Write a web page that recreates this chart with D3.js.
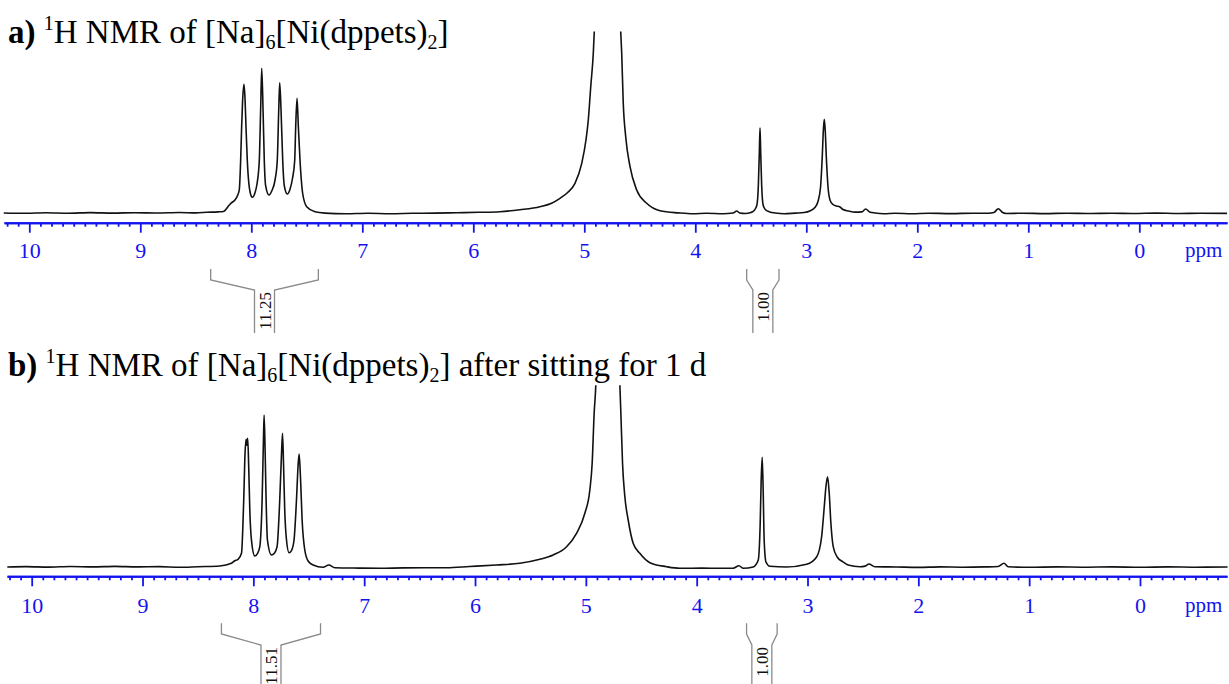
<!DOCTYPE html>
<html>
<head>
<meta charset="utf-8">
<script src="https://cdn.jsdelivr.net/npm/d3@7/dist/d3.min.js"></script>
<style>
  html, body { margin: 0; padding: 0; background: #fff; }
  svg { display: block; font-family: "Liberation Serif", "Times New Roman", serif; }
</style>
</head>
<body>
<svg id="chart" width="1229" height="684"></svg>
<script>
// ---- Spectrum a): fresh sample. [chemical shift (ppm), intensity (a.u.)]
const spectrumA = [
  [10.23, 0.5], [10.05, 0.2], [9.85, 0.8], [9.65, 0.3], [9.45, 0.9], [9.25, 0.4], [9.05, 0.8],
  [8.85, 0.5], [8.65, 1.0], [8.50, 0.6], [8.40, 1.2], [8.30, 1.6], [8.252, 2.0], [8.198, 8.5],
  [8.177, 10.8], [8.147, 13.5], [8.122, 18.5], [8.108, 24], [8.096, 53], [8.087, 86.8],
  [8.078, 113.5], [8.066, 129.3], [8.056, 113.5], [8.048, 86.8], [8.036, 53], [8.012, 22],
  [7.991, 16.2], [7.966, 21], [7.948, 30], [7.928, 53], [7.916, 103], [7.906, 145.2],
  [7.894, 103], [7.883, 53], [7.871, 28], [7.841, 18.5], [7.814, 23], [7.787, 33], [7.766, 53],
  [7.753, 103], [7.744, 130.8], [7.732, 103], [7.717, 53], [7.703, 28], [7.676, 19.5],
  [7.652, 24], [7.629, 35], [7.609, 53], [7.600, 86.8], [7.588, 115.2], [7.576, 86.8],
  [7.561, 53], [7.537, 20], [7.501, 6.8], [7.426, 1.8], [7.336, 0.4], [7.15, -0.3], [6.95, 0.2],
  [6.75, -0.2], [6.55, 0.2], [6.35, 0.4], [6.15, 0.8], [5.95, 1.2], [5.76, 1.8], [5.58, 3.8],
  [5.40, 6.8], [5.30, 10], [5.219, 15.2], [5.150, 21], [5.084, 30.2], [5.023, 50.2],
  [4.985, 73.5], [4.964, 93.5], [4.942, 126.8], [4.919, 160.2], [4.910, 182],
  [4.79, 1200],
  [4.672, 182], [4.663, 160.2], [4.649, 110.2], [4.627, 76.8], [4.588, 46.8], [4.528, 23.5],
  [4.438, 10.2], [4.318, 2.8], [4.15, 0.6], [4.018, -0.3], [3.90, 0.2], [3.75, -0.2],
  [3.66, 0.5], [3.627, 2.5], [3.60, 0.5], [3.55, 0.0], [3.50, 1.0], [3.470, 3.0],
  [3.446, 8], [3.432, 28], [3.423, 62], [3.417, 85.8], [3.411, 62], [3.402, 28], [3.388, 8],
  [3.365, 3.5], [3.33, 1.6], [3.28, 0.5], [3.20, -0.3], [3.10, 0.4], [3.02, 1.0], [2.968, 2.5],
  [2.923, 6.0], [2.895, 12], [2.872, 26], [2.857, 55], [2.846, 84], [2.838, 94.2], [2.830, 84],
  [2.819, 55], [2.804, 26], [2.785, 13], [2.76, 9], [2.73, 7.5], [2.70, 6.8], [2.67, 4],
  [2.62, 2.5], [2.56, 1.4], [2.50, 1.6], [2.465, 4.5], [2.43, 1.6], [2.38, 0.5], [2.30, -0.2],
  [2.20, 0.3], [2.05, -0.2], [1.90, 0.3], [1.70, -0.1], [1.50, 0.3], [1.36, 0.2], [1.31, 1.0],
  [1.27, 4.8], [1.235, 1.2], [1.20, 0.0], [1.05, 0.3], [0.85, -0.1], [0.65, 0.3], [0.45, 0.0],
  [0.25, 0.3], [0.05, 0.0], [-0.15, 0.4], [-0.35, 0.0], [-0.55, 0.3], [-0.79, 0.1]
];

// ---- Spectrum b): same sample after 1 day.
const spectrumB = [
  [10.22, 0.3], [10.05, 0.7], [9.85, 0.2], [9.65, 0.8], [9.45, 0.4], [9.25, 0.9], [9.05, 0.4],
  [8.85, 0.7], [8.664, 0.0], [8.50, 0.6], [8.303, 1.3], [8.198, 4.0], [8.168, 6.6],
  [8.138, 8.0], [8.107, 14], [8.087, 67.3], [8.075, 114], [8.066, 128], [8.060, 122],
  [8.051, 129], [8.042, 100.6], [8.032, 57], [8.017, 27], [7.987, 11.3], [7.962, 14],
  [7.942, 20.6], [7.921, 67.3], [7.909, 127.3], [7.903, 152.3], [7.894, 117.3], [7.885, 67.3],
  [7.873, 27.3], [7.837, 12.3], [7.810, 14], [7.786, 20.6], [7.762, 67.3], [7.747, 110.6],
  [7.737, 134], [7.728, 104], [7.717, 57.3], [7.701, 27.3], [7.678, 14.6], [7.655, 17],
  [7.633, 27.3], [7.611, 67.3], [7.597, 100.6], [7.587, 113.3], [7.575, 90.6], [7.560, 47.3],
  [7.536, 17.3], [7.506, 6.3], [7.461, 2.3], [7.371, 0.0], [7.319, 2.3], [7.265, -0.4],
  [7.05, -0.8], [6.859, -1.0], [6.65, -0.6], [6.45, -0.5], [6.257, -0.4], [6.05, 0.8],
  [5.806, 2.3], [5.596, 4.0], [5.415, 8.0], [5.295, 12.3], [5.174, 20.6], [5.084, 34],
  [5.009, 54], [4.964, 77.3], [4.943, 104], [4.925, 154], [4.910, 182.3],
  [4.80, 1200],
  [4.693, 182.3], [4.684, 154], [4.669, 104], [4.648, 70.6], [4.618, 47.3], [4.573, 24],
  [4.513, 14], [4.422, 4.6], [4.272, 0.6], [4.152, -1.0], [3.95, -0.8], [3.791, -1.0],
  [3.671, -1.0], [3.619, 1.6], [3.580, -1.0], [3.490, 0.3], [3.445, 7], [3.427, 43.6],
  [3.418, 87], [3.409, 110], [3.400, 77], [3.391, 27], [3.375, 5.3], [3.339, 1.0],
  [3.189, 0.3], [3.008, 3.0], [2.918, 10.3], [2.873, 30.3], [2.849, 60.3], [2.834, 80.3],
  [2.819, 90.6], [2.804, 74], [2.789, 44], [2.768, 20.6], [2.732, 10.3], [2.683, 5.6],
  [2.633, 2.3], [2.527, 0.6], [2.480, 1.2], [2.446, 3.3], [2.392, 0.6], [2.20, 0.3],
  [2.00, -0.1], [1.80, 0.4], [1.60, 0.1], [1.40, 0.4], [1.28, 0.8], [1.227, 4.0], [1.19, 0.5],
  [1.00, 0.0], [0.75, 0.4], [0.50, 0.1], [0.25, 0.4], [0.00, 0.0], [-0.25, 0.4], [-0.50, 0.1],
  [-0.79, 0.3]
];

// ---- Integrals: [from ppm, to ppm, value label]
const integralsA = [[8.366, 7.396, "11.25"], [3.537, 3.246, "1.00"]];
const integralsB = [[8.288, 7.394, "11.51"], [3.550, 3.274, "1.00"]];

// ---- Axis ticks
const majorTicks = [10, 9, 8, 7, 6, 5, 4, 3, 2, 1, 0];
const tickLabels = ["10", "9", "8", "7", "6", "5", "4", "3", "2", "1", "0"];
const axisUnit = "ppm";

// ---- Titles (text runs; "sup"/"sub" mark raised/lowered figures)
const titleA = [["a)", "bold"], [" ", ""], ["1", "sup"], ["H NMR of [Na]", ""], ["6", "sub"],
                ["[Ni(dppets)", ""], ["2", "sub"], ["]", ""]];
const titleB = [["b)", "bold"], [" ", ""], ["1", "sup"], ["H NMR of [Na]", ""], ["6", "sub"],
                ["[Ni(dppets)", ""], ["2", "sub"], ["] after sitting for 1 d", ""]];

const svg = d3.select("#chart");
const BLUE = "#1414ee";
const SERIF = "'Liberation Serif', 'Times New Roman', serif";

const panels = [
  { id: "a", spectrum: spectrumA, integrals: integralsA, title: titleA,
    ppm0: 1139.3, ppm10: 29.3, axisLeft: 4, axisRight: 1227,
    base: 213.5, top: 31.5, axisY: 222.7, labelY: 258, titleY: 43,
    brTop: 269, brBend: 280, brInner: 290, brBottom: 333 },
  { id: "b", spectrum: spectrumB, integrals: integralsB, title: titleB,
    ppm0: 1140.0, ppm10: 31.7, axisLeft: 7, axisRight: 1227,
    base: 567.3, top: 385.3, axisY: 576.3, labelY: 613, titleY: 376,
    brTop: 623.3, brBend: 634, brInner: 645, brBottom: 684 }
];

panels.forEach(p => {
  const g = svg.append("g").attr("class", "panel-" + p.id);

  const x = d3.scaleLinear().domain([10, 0]).range([p.ppm10, p.ppm0]);
  const y = d3.scaleLinear().domain([0, 182]).range([p.base, p.top]);

  // clip the trace at the top of the plotting window (solvent peak runs off scale)
  const clipId = "clip-" + p.id;
  g.append("clipPath").attr("id", clipId)
    .append("rect")
    .attr("x", 0).attr("y", p.top)
    .attr("width", 1229).attr("height", p.axisY - p.top - 2);

  const line = d3.line()
    .x(d => x(d[0]))
    .y(d => y(d[1]))
    .curve(d3.curveMonotoneX);

  const data = p.spectrum.slice().sort((a, b) => b[0] - a[0]);
  g.append("path")
    .datum(data)
    .attr("clip-path", `url(#${clipId})`)
    .attr("d", line)
    .attr("fill", "none")
    .attr("stroke", "#111")
    .attr("stroke-width", 1.6)
    .attr("stroke-linejoin", "round");

  // ppm axis: full-range scale for the baseline rule and minor ticks
  const lo = x.invert(p.axisRight), hi = x.invert(p.axisLeft);
  const xFull = d3.scaleLinear().domain([hi, lo]).range([p.axisLeft, p.axisRight]);
  const minor = d3.range(Math.ceil(lo * 10), Math.floor(hi * 10) + 1)
    .map(v => v / 10)
    .filter(v => Math.abs(v - Math.round(v)) > 1e-6);

  const minorAxis = d3.axisBottom(xFull).tickValues(minor).tickSize(4).tickSizeOuter(0).tickFormat("");
  const majorAxis = d3.axisBottom(xFull).tickValues(majorTicks).tickSize(10).tickSizeOuter(0)
    .tickFormat((d, i) => tickLabels[i]);

  const ax1 = g.append("g").attr("transform", `translate(0,${p.axisY})`).call(minorAxis);
  const ax2 = g.append("g").attr("transform", `translate(0,${p.axisY})`).call(majorAxis);
  [ax1, ax2].forEach(a => {
    a.attr("font-family", null).attr("font-size", null);
    a.select(".domain").attr("stroke", BLUE).attr("stroke-width", 2);
    a.selectAll(".tick line").attr("stroke", BLUE).attr("stroke-width", 1.8);
  });
  ax2.selectAll(".tick text")
    .attr("fill", BLUE)
    .style("font-family", SERIF)
    .style("font-size", "22px")
    .attr("y", p.labelY - p.axisY)
    .attr("dy", null);

  g.append("text")
    .attr("x", 1185).attr("y", p.labelY - 1)
    .attr("fill", BLUE)
    .style("font-family", SERIF)
    .style("font-size", "21px")
    .text(axisUnit);

  // integral brackets
  p.integrals.forEach(([from, to, val]) => {
    const xl = x(from), xr = x(to), cx = (xl + xr) / 2;
    const half = 10;
    const br = g.append("g").attr("stroke", "#8a8a8a").attr("stroke-width", 1.3).attr("fill", "none");
    br.append("path").attr("d",
      `M${xl},${p.brTop} L${xl},${p.brBend} L${cx - half},${p.brInner} L${cx - half},${p.brBottom}`);
    br.append("path").attr("d",
      `M${xr},${p.brTop} L${xr},${p.brBend} L${cx + half},${p.brInner} L${cx + half},${p.brBottom}`);
    g.append("text")
      .attr("transform", `translate(${cx + 6},${p.brInner + 2}) rotate(-90)`)
      .attr("text-anchor", "end")
      .style("font-family", SERIF)
      .style("font-size", "17px")
      .attr("fill", "#111")
      .text(val);
  });

  // panel title
  const t = g.append("text").attr("x", 8).attr("y", p.titleY)
    .style("font-family", SERIF).style("font-size", "33px").attr("fill", "#000");
  let shift = 0;
  p.title.forEach(([s, kind]) => {
    const span = t.append("tspan").text(s);
    let dy = 0;
    if (kind === "bold") span.attr("font-weight", "bold");
    if (kind === "sup") { span.style("font-size", "20px"); dy = -13; }
    if (kind === "sub") { span.style("font-size", "20px"); dy = 6; }
    span.attr("dy", dy - shift);
    shift = dy;
  });
});
</script>
</body>
</html>
